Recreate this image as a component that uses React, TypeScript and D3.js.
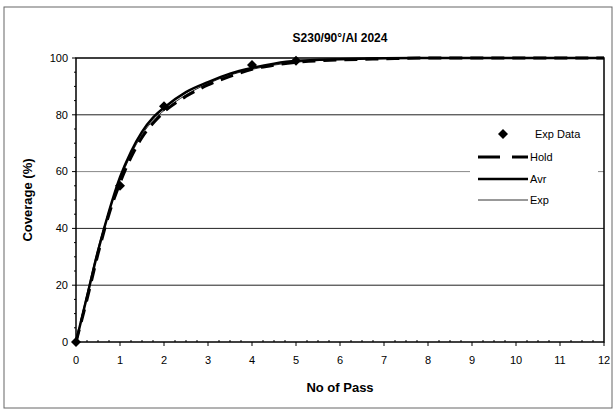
import React from "react";
import * as d3 from "d3";

// values
const passX = [0, 0.25, 0.5, 0.75, 1, 1.25, 1.5, 1.75, 2, 2.5, 3, 3.5, 4, 4.5, 5, 6, 7, 8, 10, 12];
const avrY = [0, 16, 32, 46, 58, 67, 74, 79, 82.5, 88, 91.5, 94.5, 96.5, 98, 99, 99.6, 99.9, 100, 100, 100];
const expY = [0, 17, 33, 46, 57, 66, 73, 78, 81.5, 87, 91, 94, 96, 97.5, 98.5, 99.5, 99.8, 100, 100, 100];
const holdY = [0, 15, 31, 45, 56, 65, 72, 77, 81, 86.5, 90.5, 93.5, 96, 97.5, 98.5, 99.3, 99.7, 100, 100, 100];

const expDataX = [0, 1, 2, 4, 5];
const expDataY = [0, 55, 83, 97.5, 99];

const xTicks = d3.range(0, 13);
const yTicks = [0, 20, 40, 60, 80, 100];
const legendLabels = ["Exp Data", "Hold", "Avr", "Exp"];

const W = 616;
const H = 412;
const m = { left: 76, right: 12, top: 58, bottom: 70 };

const App = () => {
  const x = d3.scaleLinear().domain([0, 12]).range([m.left, W - m.right]);
  const y = d3.scaleLinear().domain([0, 100]).range([H - m.bottom, m.top]);

  const line = d3
    .line<number>()
    .x((_, i) => x(passX[i]))
    .y((d) => y(d))
    .curve(d3.curveMonotoneX);

  const font = "'Liberation Sans', Arial, sans-serif";
  const minorX = d3.range(0, 12.01, 0.25).filter((v) => v % 1 !== 0);
  const minorY = d3.range(0, 101, 5).filter((v) => v % 20 !== 0);

  const diamond = (cx: number, cy: number, r: number) =>
    `M${cx},${cy - r}L${cx + r},${cy}L${cx},${cy + r}L${cx - r},${cy}Z`;

  const lx0 = 478;
  const lx1 = 528;
  const ly = [134, 157, 179, 200];

  return (
    <svg
      width={W}
      height={H}
      style={{ position: "absolute", left: 0, top: 0, background: "#fff" }}
      fontFamily={font}
    >
      <rect x={4} y={7} width={608} height={401} fill="none" stroke="#666" strokeWidth={1} />

      {/* gridlines */}
      {yTicks
        .filter((t) => t > 0 && t < 100)
        .map((t) => (
          <line
            key={"g" + t}
            x1={x(0)}
            x2={x(12)}
            y1={y(t)}
            y2={y(t)}
            stroke={t === 60 ? "#888" : "#222"}
            strokeWidth={1}
          />
        ))}

      {/* plot box */}
      <rect
        x={x(0)}
        y={y(100)}
        width={x(12) - x(0)}
        height={y(0) - y(100)}
        fill="none"
        stroke="#000"
        strokeWidth={1.5}
      />

      {/* y axis ticks */}
      {yTicks.map((t) => (
        <g key={"yt" + t}>
          <line x1={x(0) - 4} x2={x(0)} y1={y(t)} y2={y(t)} stroke="#000" />
          <text x={x(0) - 8} y={y(t)} dy="0.35em" textAnchor="end" fontSize={11}>
            {t}
          </text>
        </g>
      ))}
      {minorY.map((t) => (
        <line key={"ym" + t} x1={x(0) - 2} x2={x(0)} y1={y(t)} y2={y(t)} stroke="#000" />
      ))}

      {/* x axis ticks */}
      {xTicks.map((t) => (
        <g key={"xt" + t}>
          <line x1={x(t)} x2={x(t)} y1={y(0)} y2={y(0) + 4} stroke="#000" />
          <text x={x(t)} y={y(0) + 22} textAnchor="middle" fontSize={11}>
            {t}
          </text>
        </g>
      ))}
      {minorX.map((t) => (
        <line key={"xm" + t} x1={x(t)} x2={x(t)} y1={y(0) - 2} y2={y(0)} stroke="#000" />
      ))}

      {/* series */}
      <path d={line(expY) || ""} fill="none" stroke="#333" strokeWidth={1} />
      <path d={line(avrY) || ""} fill="none" stroke="#000" strokeWidth={2.5} />
      <path
        d={line(holdY) || ""}
        fill="none"
        stroke="#000"
        strokeWidth={3}
        strokeDasharray="13 8"
      />
      {expDataX.map((v, i) => (
        <path key={"d" + i} d={diamond(x(v), y(expDataY[i]), 5)} fill="#000" />
      ))}

      {/* titles */}
      <text x={(x(0) + x(12)) / 2} y={42} textAnchor="middle" fontSize={12} fontWeight="bold">
        S230/90°/Al 2024
      </text>
      <text x={(x(0) + x(12)) / 2} y={392} textAnchor="middle" fontSize={13} fontWeight="bold">
        No of Pass
      </text>
      <text
        transform={`translate(32,${(y(0) + y(100)) / 2}) rotate(-90)`}
        textAnchor="middle"
        fontSize={13}
        fontWeight="bold"
      >
        Coverage (%)
      </text>

      {/* legend */}
      <rect x={470} y={124} width={128} height={86} fill="#fff" />
      <path d={diamond(503, ly[0], 5)} fill="#000" />
      <line x1={lx0} x2={lx1} y1={ly[1]} y2={ly[1]} stroke="#000" strokeWidth={3} strokeDasharray="22 12" />
      <line x1={lx0} x2={lx1} y1={ly[2]} y2={ly[2]} stroke="#000" strokeWidth={2.5} />
      <line x1={lx0} x2={lx1} y1={ly[3]} y2={ly[3]} stroke="#333" strokeWidth={1} />
      {legendLabels.map((s, i) => (
        <text key={s} x={i === 0 ? 535 : 530} y={ly[i]} dy="0.35em" fontSize={11}>
          {s}
        </text>
      ))}
    </svg>
  );
};

export default App;
